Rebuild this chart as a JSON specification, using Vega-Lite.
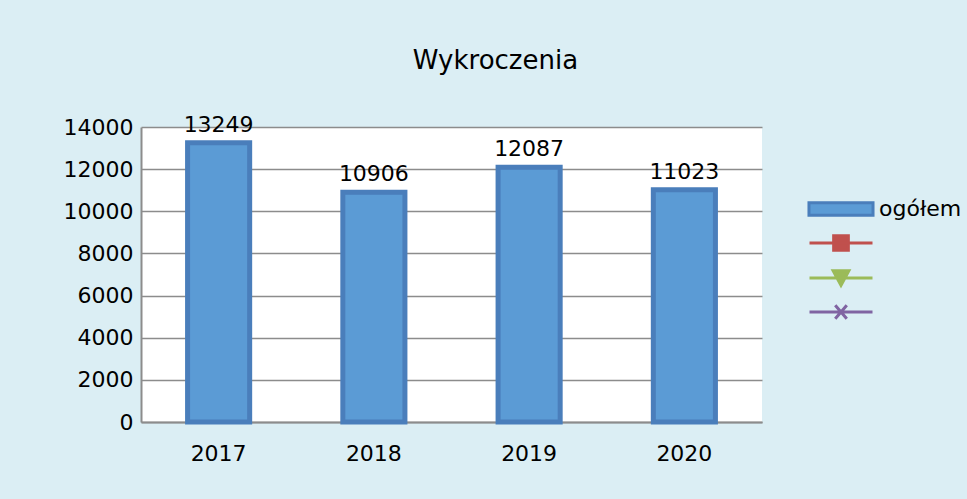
{
  "$schema": "https://vega.github.io/schema/vega-lite/v6.json",
  "autosize": {"type": "none"},
  "width": 621,
  "height": 295,
  "padding": {"left": 141, "top": 127, "right": 205, "bottom": 77},
  "background": "#DBEEF4",
  "config": {"view": {"fill": "#FFFFFF", "stroke": null}},
  "title": {"text": "Wykroczenia", "font": "DejaVu Sans", "fontSize": 26, "fontWeight": "normal", "color": "#000000", "anchor": "middle", "dx": 44, "offset": 40},
  "data": {"values": [
    {"year": "2017", "series": "ogółem", "value": 13249},
    {"year": "2018", "series": "ogółem", "value": 10906},
    {"year": "2019", "series": "ogółem", "value": 12087},
    {"year": "2020", "series": "ogółem", "value": 11023}
  ]},
  "encoding": {
    "x": {"field": "year", "type": "nominal", "title": null,
      "scale": {"paddingInner": 0.6, "paddingOuter": 0.3},
      "axis": {"labelAngle": 0, "labelFont": "DejaVu Sans", "labelFontSize": 22, "labelColor": "#000000", "labelPadding": 21, "ticks": false, "domainColor": "#8C8C8C", "domainWidth": 2}},
    "y": {"field": "value", "type": "quantitative", "title": null,
      "scale": {"domain": [0, 14000]},
      "axis": {"values": [0, 2000, 4000, 6000, 8000, 10000, 12000, 14000], "format": "d", "labelFont": "DejaVu Sans", "labelFontSize": 22, "labelColor": "#000000", "labelPadding": 8, "ticks": false, "domainColor": "#8C8C8C", "domainWidth": 2, "gridColor": "#8C8C8C", "gridWidth": 1.5, "gridOpacity": 1}}
  },
  "layer": [
    {"mark": {"type": "bar", "fill": "#5B9BD5", "stroke": "#4A7EBB", "strokeWidth": 5}},
    {"mark": {"type": "text", "baseline": "alphabetic", "dy": -11, "font": "DejaVu Sans", "fontSize": 22, "color": "#000000"},
      "encoding": {"text": {"field": "value", "type": "quantitative", "format": "d"}}},
    {"mark": {"type": "point", "filled": true, "size": 0, "strokeWidth": 0, "opacity": 1},
      "encoding": {
        "color": {"field": "series", "type": "nominal",
          "scale": {"domain": ["ogółem", "s2", "s3", "s4"], "range": ["#5B9BD5", "#C0504D", "#9BBB59", "#8064A2"]},
          "legend": {"title": null, "orient": "none", "legendX": 688, "legendY": 70, "padding": 0,
            "symbolSize": 441, "symbolOpacity": 1, "symbolStrokeWidth": 3, "rowPadding": 7, "labelOffset": 26,
            "labelFont": "DejaVu Sans", "labelFontSize": 22, "labelColor": "#000000",
            "labelExpr": "datum.value == 'ogółem' ? 'ogółem' : ''"}},
        "stroke": {"field": "series", "type": "nominal",
          "scale": {"domain": ["ogółem", "s2", "s3", "s4"], "range": ["#4A7EBB", "#C0504D", "#9BBB59", "#8064A2"]}},
        "shape": {"field": "series", "type": "nominal",
          "scale": {"domain": ["ogółem", "s2", "s3", "s4"], "range": [
            "M-3.05,-0.6H3.05V0.6H-3.05Z",
            "M-3,0H3M-0.7,-0.7H0.7V0.7H-0.7Z",
            "M-3,0H3M-0.75,-0.7L0.75,-0.7L0,0.7Z",
            "M-3,0H3M-0.55,-0.65L0.55,0.65M-0.55,0.65L0.55,-0.65"
          ]}}
      }}
  ]
}
